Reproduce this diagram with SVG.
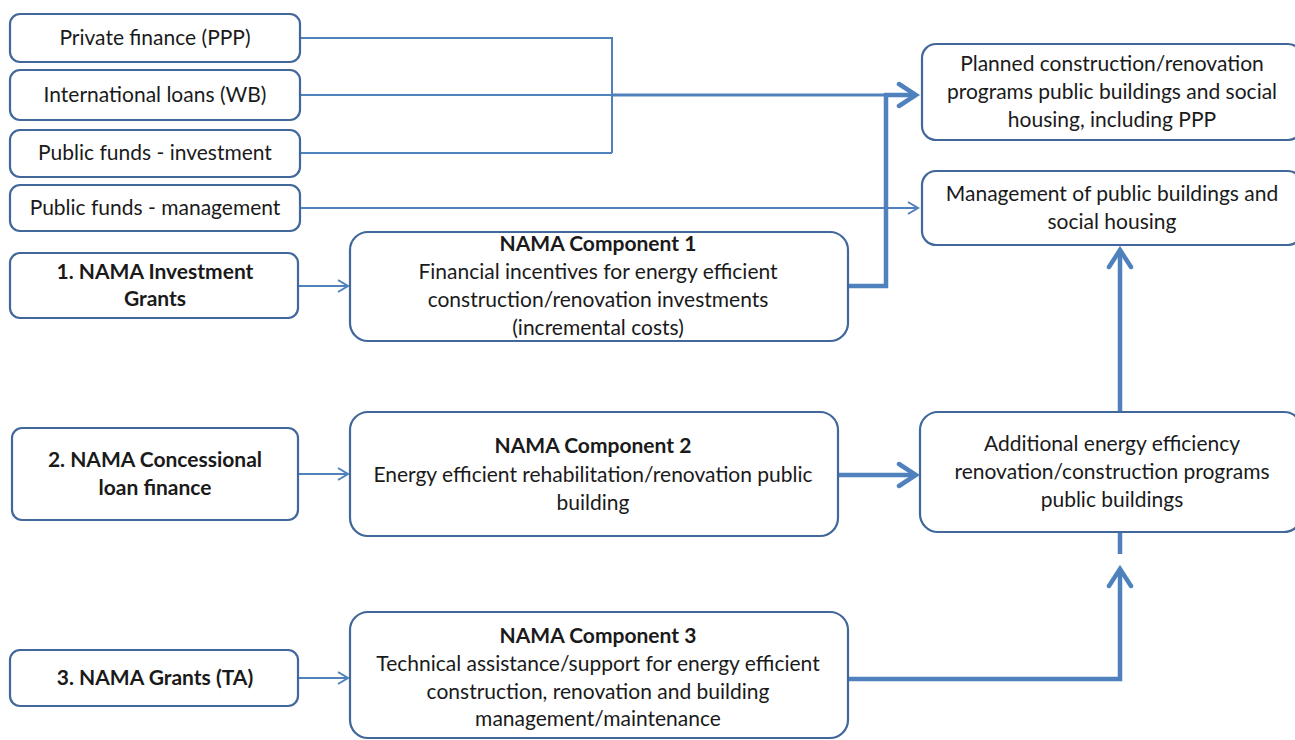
<svg xmlns="http://www.w3.org/2000/svg" width="1295" height="740" viewBox="0 0 1295 740">
<defs>
<style>
.box{fill:#fff;stroke:#41679b;stroke-width:2.2}
.t{font-family:Lato,"Open Sans","Liberation Sans",sans-serif;font-size:21px;fill:#1a1a1a;text-anchor:middle}
.b{font-weight:bold}
.thin{fill:none;stroke:#4f81bd;stroke-width:2}
.mid{fill:none;stroke:#4f81bd;stroke-width:3}
.thick{fill:none;stroke:#4f81bd;stroke-width:4.5}
</style>
<marker id="ah" markerWidth="14" markerHeight="14" refX="11" refY="7" orient="auto" markerUnits="userSpaceOnUse">
<path d="M1,1 L11,7 L1,13" fill="none" stroke="#4f81bd" stroke-width="2"/>
</marker>
<marker id="ahb" markerWidth="24" markerHeight="28" refX="20" refY="14" orient="auto" markerUnits="userSpaceOnUse">
<path d="M3,3 L20,14 L3,25" fill="none" stroke="#4f81bd" stroke-width="4.5" stroke-linecap="round"/>
</marker>
</defs>
<rect width="1295" height="740" fill="#fff"/>
<g id="connectors">
<path class="thin" d="M300,38 H612 V153 M300,153 H612 M300,95 H612"/>
<path class="mid" d="M612,95 H886"/>
<path class="thick" d="M884,95 H916" marker-end="url(#ahb)"/>
<path class="thick" d="M848,286 H886 V93"/>
<path class="thin" d="M300,208 H918" marker-end="url(#ah)"/>
<path class="thin" d="M298,286 H348" marker-end="url(#ah)"/>
<path class="thin" d="M298,474 H348" marker-end="url(#ah)"/>
<path class="thin" d="M298,678 H348" marker-end="url(#ah)"/>
<path class="thick" d="M838,475 H916" marker-end="url(#ahb)"/>
<path class="thick" d="M1120,412 V250" marker-end="url(#ahb)"/>
<path class="thick" d="M1120,532 V554"/>
<path class="thick" d="M848,679 H1120 V569" marker-end="url(#ahb)"/>
</g>
<g id="n-private"><rect class="box" x="10" y="14" width="290" height="48" rx="10"/><text class="t" x="155" y="45">Private finance (PPP)</text></g>
<g id="n-intl"><rect class="box" x="10" y="70" width="290" height="50" rx="10"/><text class="t" x="155" y="102">International loans (WB)</text></g>
<g id="n-pubinv"><rect class="box" x="10" y="130" width="290" height="47" rx="10"/><text class="t" x="155" y="160">Public funds - investment</text></g>
<g id="n-pubman"><rect class="box" x="10" y="185" width="290" height="46" rx="10"/><text class="t" x="155" y="215">Public funds - management</text></g>
<g id="n-grant1"><rect class="box" x="10" y="253" width="288" height="65" rx="10"/><text class="t b" x="155" y="279">1. NAMA Investment</text><text class="t b" x="155" y="306">Grants</text></g>
<g id="n-loan2"><rect class="box" x="12" y="428" width="286" height="92" rx="10"/><text class="t b" x="155" y="467">2. NAMA Concessional</text><text class="t b" x="155" y="495">loan finance</text></g>
<g id="n-grant3"><rect class="box" x="10" y="650" width="288" height="56" rx="10"/><text class="t b" x="155" y="685">3. NAMA Grants (TA)</text></g>
<g id="n-comp1"><rect class="box" x="350" y="232" width="498" height="109" rx="18"/><text class="t b" x="598" y="251">NAMA Component 1</text><text class="t" x="598" y="279">Financial incentives for energy efficient</text><text class="t" x="598" y="307">construction/renovation investments</text><text class="t" x="598" y="335">(incremental costs)</text></g>
<g id="n-comp2"><rect class="box" x="350" y="412" width="488" height="124" rx="18"/><text class="t b" x="593" y="453">NAMA Component 2</text><text class="t" x="593" y="482">Energy efficient rehabilitation/renovation public</text><text class="t" x="593" y="510">building</text></g>
<g id="n-comp3"><rect class="box" x="350" y="612" width="498" height="126" rx="18"/><text class="t b" x="598" y="643">NAMA Component 3</text><text class="t" x="598" y="671">Technical assistance/support for energy efficient</text><text class="t" x="598" y="699">construction, renovation and building</text><text class="t" x="598" y="726">management/maintenance</text></g>
<g id="n-planned"><rect class="box" x="922" y="44" width="380" height="96" rx="14"/><text class="t" x="1112" y="71">Planned construction/renovation</text><text class="t" x="1112" y="99">programs public buildings and social</text><text class="t" x="1112" y="127">housing, including PPP</text></g>
<g id="n-manage"><rect class="box" x="922" y="171" width="380" height="74" rx="14"/><text class="t" x="1112" y="201">Management of public buildings and</text><text class="t" x="1112" y="229">social housing</text></g>
<g id="n-additional"><rect class="box" x="920" y="412" width="382" height="120" rx="18"/><text class="t" x="1112" y="451">Additional energy efficiency</text><text class="t" x="1112" y="479">renovation/construction programs</text><text class="t" x="1112" y="507">public buildings</text></g>
</svg>
